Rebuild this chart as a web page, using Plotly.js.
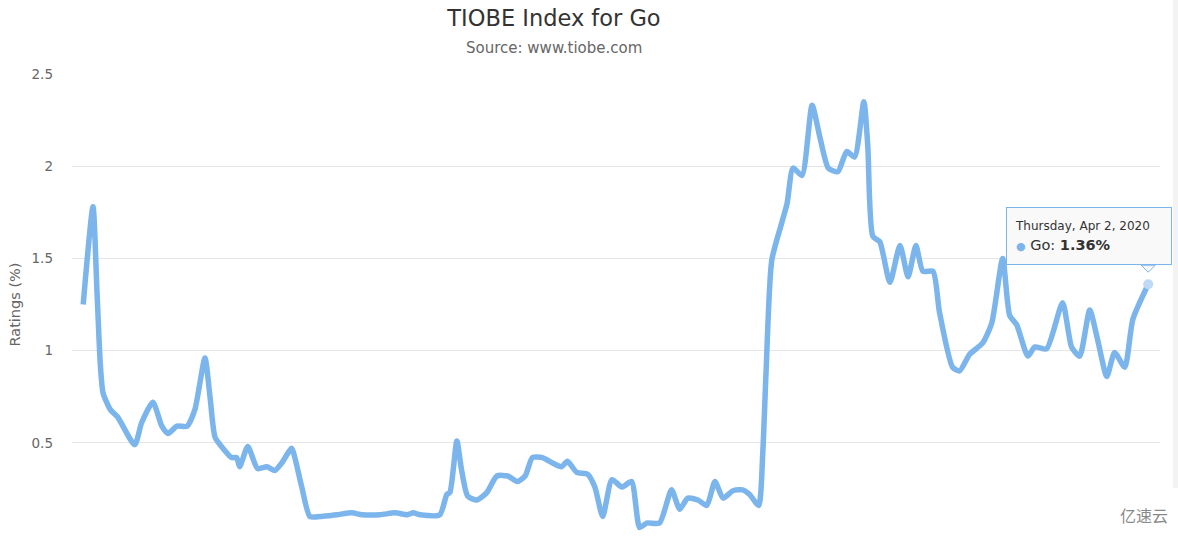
<!DOCTYPE html>
<html>
<head>
<meta charset="utf-8">
<script src="https://cdn.plot.ly/plotly-3.0.1.min.js"></script>
<style>
  html, body { margin: 0; padding: 0; background: #ffffff; }
  #chart { width: 1178px; height: 536px; }
</style>
</head>
<body>
<div id="chart"></div>
<script>
// ---- Data ----
const dates = [
  '2009-11-01','2009-12-06','2009-12-20','2010-01-01','2010-01-11','2010-02-06','2010-03-04','2010-05-04',
  '2010-05-29','2010-07-08','2010-08-09','2010-08-31','2010-10-02','2010-11-07','2010-12-05','2011-01-10',
  '2011-01-28','2011-02-15','2011-03-10','2011-04-15','2011-05-03','2011-05-14','2011-06-12','2011-07-17',
  '2011-08-19','2011-09-17','2011-10-11','2011-11-16','2011-11-27','2011-12-22','2012-01-20','2012-02-25',
  '2012-04-25','2012-06-18','2012-07-24','2012-09-27','2012-11-19','2013-01-02','2013-01-23','2013-02-17',
  '2013-04-28','2013-05-23','2013-06-03','2013-06-28','2013-07-15','2013-08-06','2013-09-08','2013-10-13',
  '2013-11-18','2013-12-27','2014-01-29','2014-02-27','2014-03-25','2014-04-30','2014-06-05','2014-07-07',
  '2014-07-28','2014-08-30','2014-10-08','2014-11-03','2014-12-01','2015-01-03','2015-02-08','2015-03-14',
  '2015-04-12','2015-05-07','2015-06-22','2015-08-04','2015-09-02','2015-10-01','2015-11-06','2015-12-08',
  '2016-01-06','2016-02-04','2016-03-10','2016-04-14','2016-05-09','2016-06-10','2016-06-25','2016-07-06',
  '2016-07-27','2016-09-02','2016-09-20','2016-10-11','2016-11-12','2016-12-18','2017-01-16','2017-02-14',
  '2017-03-20','2017-04-21','2017-05-19','2017-06-21','2017-07-05','2017-07-23','2017-08-17','2017-09-22',
  '2017-10-28','2017-11-26','2017-12-24','2018-01-18','2018-02-23','2018-03-18','2018-05-04','2018-05-29',
  '2018-07-04','2018-08-19','2018-09-21','2018-10-30','2018-11-24','2018-12-19','2019-01-28','2019-02-22',
  '2019-04-05','2019-06-01','2019-07-03','2019-08-01','2019-09-06','2019-10-04','2019-11-06','2019-12-04',
  '2020-01-09','2020-02-07','2020-04-02'
];
const goRatings = [
  1.25,1.78,1.33,0.93,0.77,0.68,0.64,0.49,
  0.61,0.72,0.59,0.55,0.59,0.59,0.68,0.96,
  0.75,0.53,0.48,0.42,0.42,0.37,0.48,0.36,
  0.37,0.35,0.39,0.47,0.42,0.26,0.10,0.10,
  0.11,0.12,0.11,0.11,0.12,0.11,0.12,0.11,
  0.11,0.22,0.23,0.51,0.35,0.21,0.19,0.23,
  0.32,0.32,0.29,0.32,0.42,0.42,0.39,0.37,
  0.40,0.34,0.33,0.26,0.10,0.30,0.26,0.29,
  0.04,0.065,0.065,0.245,0.14,0.20,0.19,0.16,
  0.29,0.20,0.24,0.245,0.22,0.16,0.45,0.86,
  1.49,1.70,1.80,1.99,1.95,2.33,2.15,1.99,
  1.97,2.08,2.05,2.35,2.11,1.62,1.59,1.37,
  1.57,1.40,1.57,1.43,1.43,1.21,0.91,0.89,
  0.98,1.04,1.15,1.50,1.19,1.14,0.97,1.02,
  1.01,1.26,1.02,0.97,1.22,1.06,0.86,0.99,
  0.91,1.17,1.36
];
const yTickValues = [0, 0.5, 1, 1.5, 2, 2.5];
const yTickLabels = ['0', '0.5', '1', '1.5', '2', '2.5'];
const seriesName = 'Go';
const chartTitle = 'TIOBE Index for Go';
const chartSubtitle = 'Source: www.tiobe.com';
const yTitle = 'Ratings (%)';
const tooltipHeader = 'Thursday, Apr 2, 2020';
const watermark = '亿速云';

// ---- Chart ----
const FONT = 'DejaVu Sans, Verdana, sans-serif';
const LINE = '#7cb5ec';
const lastIdx = goRatings.length - 1;
const lastDate = dates[lastIdx];
const lastVal = goRatings[lastIdx];

const traces = [
  {
    x: dates, y: goRatings, name: seriesName, type: 'scatter', mode: 'lines',
    line: { color: LINE, width: 5.5, shape: 'spline', smoothing: 0.6 },
    hoverinfo: 'skip'
  },
  {
    x: [lastDate], y: [lastVal], type: 'scatter', mode: 'markers',
    marker: { color: 'rgba(190,218,245,1)', size: 10, line: { width: 0 } },
    hoverinfo: 'skip', showlegend: false
  }
];

const layout = {
  width: 1178, height: 536,
  margin: { l: 72, r: 18, t: 74, b: 1, pad: 0 },
  paper_bgcolor: '#ffffff', plot_bgcolor: '#ffffff',
  showlegend: false,
  font: { family: FONT, color: '#666666', size: 13 },
  title: {
    text: chartTitle, x: 554 / 1178, xanchor: 'center', xref: 'container',
    y: 1 - 18 / 536, yanchor: 'middle', yref: 'container',
    font: { family: FONT, size: 22.5, color: '#333333' }
  },
  xaxis: {
    type: 'date', range: ['2009-09-22', '2020-05-14'],
    showgrid: false, zeroline: false, showline: false,
    showticklabels: false, ticks: '', automargin: false, fixedrange: true
  },
  yaxis: {
    range: [0, 2.5], tickvals: yTickValues, ticktext: yTickLabels,
    showgrid: true, gridcolor: '#e6e6e6', gridwidth: 1,
    zeroline: false, showline: false, ticks: '',
    ticklabelstandoff: 18,
    tickfont: { family: FONT, size: 13.5, color: '#666666' },
    automargin: false, fixedrange: true
  },
  annotations: [
    {
      text: chartSubtitle, xref: 'paper', yref: 'paper',
      x: (554 - 72) / 1088, y: 1 + (74 - 48) / 461, xanchor: 'center', yanchor: 'middle',
      showarrow: false, font: { family: FONT, size: 15, color: '#666666' }
    },
    {
      text: yTitle, xref: 'paper', yref: 'paper', textangle: -90,
      x: -(72 - 14) / 1088, y: 0.5, xanchor: 'center', yanchor: 'middle',
      showarrow: false, font: { family: FONT, size: 14.5, color: '#666666' }
    },
    {
      text: '<span style="font-size:12px;color:#333333">' + tooltipHeader + '</span><br>' +
            '<span style="color:' + LINE + ';font-size:11px">●</span>' +
            '<span style="font-size:14.5px;color:#333333"> ' + seriesName + ': <b>' + lastVal.toFixed(2) + '%</b></span>',
      x: lastDate, y: lastVal, xref: 'x', yref: 'y',
      xanchor: 'right', yanchor: 'bottom', xshift: 24, yshift: 19,
      showarrow: false, align: 'left',
      width: 148, height: 40, borderpad: 8,
      bgcolor: 'rgba(248,248,248,0.92)', bordercolor: LINE, borderwidth: 1,
      font: { family: FONT, size: 16, color: '#333333' }
    },
    {
      text: watermark, xref: 'paper', yref: 'paper',
      x: (1144 - 72) / 1088, y: -(515 - 535) / 461, xanchor: 'center', yanchor: 'middle',
      showarrow: false, font: { family: 'Noto Sans CJK SC', size: 16, color: '#8a8a8a' }
    }
  ],
  shapes: [
    {
      type: 'path', xref: 'x', yref: 'y', xsizemode: 'pixel', ysizemode: 'pixel',
      xanchor: lastDate, yanchor: lastVal,
      path: 'M -7 19 L 0 12 L 7 19 Z',
      fillcolor: 'rgba(248,248,248,1)', line: { color: LINE, width: 1 }, layer: 'above'
    },
    {
      type: 'rect', xref: 'paper', yref: 'paper',
      x0: (1173 - 72) / 1088, x1: (1178 - 72) / 1088, y0: -(488 - 535) / 461, y1: 1 + 74 / 461,
      fillcolor: '#f3f3f3', line: { width: 0 }, layer: 'below'
    }
  ]
};

Plotly.newPlot('chart', traces, layout, { displayModeBar: false, staticPlot: true });
</script>
</body>
</html>
